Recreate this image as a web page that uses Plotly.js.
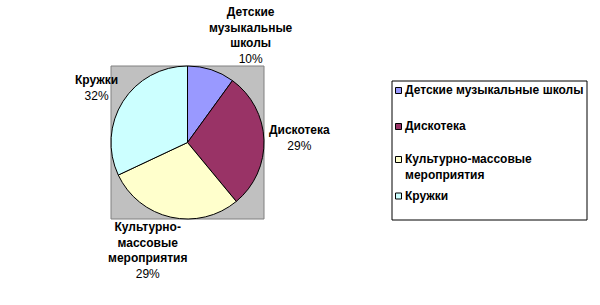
<!DOCTYPE html>
<html>
<head>
<meta charset="utf-8">
<script src="https://cdn.plot.ly/plotly-3.0.1.min.js"></script>
<style>html,body{margin:0;padding:0;background:#fff}#chart{width:600px;height:305px}</style>
</head>
<body>
<div id="chart"></div>
<script>
// Data
var categories = ["Детские музыкальные школы", "Дискотека", "Культурно-массовые мероприятия", "Кружки"];
var values = [10, 29, 29, 32];
var sliceLabelLines = ["Детские<br>музыкальные<br>школы", "Дискотека", "Культурно-<br>массовые<br>мероприятия", "Кружки"];
var legendLabelLines = ["Детские музыкальные школы", "Дискотека", "Культурно-массовые<br>мероприятия", "Кружки"];
var colors = ["#9999FF", "#993366", "#FFFFCC", "#CCFFFF"];

var W = 600, H = 305;
function px(x) { return x / W; }
function py(y) { return 1 - y / H; }
var FONT = "Liberation Sans, Arial, sans-serif";

// Layout positions
var plotBox = {x0: 111, x1: 264, y0: 66, y1: 219};
var labelPos = [[251, 35], [299, 138], [147, 250.5], [96, 87.5]];
var legendBox = {x0: 392, x1: 587, y0: 81, y1: 220};
var legendRowY = [90.5, 126.5, 159.5, 196];
var legendLineCount = [1, 1, 2, 1];

var total = values.reduce(function (a, b) { return a + b; }, 0);

var trace = {
  type: "pie",
  labels: categories,
  values: values,
  sort: false,
  direction: "clockwise",
  rotation: 0,
  textinfo: "none",
  hoverinfo: "label+percent",
  automargin: false,
  marker: {colors: colors, line: {color: "#000000", width: 1}},
  domain: {x: [px(plotBox.x0), px(plotBox.x1)], y: [py(plotBox.y1), py(plotBox.y0)]},
  showlegend: false
};

var shapes = [
  {type: "rect", xref: "paper", yref: "paper", layer: "below",
   x0: px(plotBox.x0), x1: px(plotBox.x1), y0: py(plotBox.y1), y1: py(plotBox.y0),
   fillcolor: "#C0C0C0", line: {color: "#808080", width: 1}},
  {type: "rect", xref: "paper", yref: "paper", layer: "above",
   x0: px(legendBox.x0), x1: px(legendBox.x1), y0: py(legendBox.y1), y1: py(legendBox.y0),
   fillcolor: "rgba(0,0,0,0)", line: {color: "#000000", width: 1}}
];

var annotations = [];
categories.forEach(function (c, i) {
  var pct = Math.round(values[i] / total * 100);
  annotations.push({
    xref: "paper", yref: "paper", x: px(labelPos[i][0]), y: py(labelPos[i][1]),
    xanchor: "center", yanchor: "middle", align: "center", showarrow: false,
    text: "<b>" + sliceLabelLines[i] + "</b><br>" + pct + "%",
    font: {family: FONT, size: 12, color: "#000000"}
  });
  // legend swatch
  var cy = legendRowY[i];
  shapes.push({type: "rect", xref: "paper", yref: "paper", layer: "above",
    x0: px(395.5), x1: px(401.5), y0: py(cy + 3), y1: py(cy - 3),
    fillcolor: colors[i], line: {color: "#000000", width: 1}});
  var lines = legendLineCount[i];
  annotations.push({
    xref: "paper", yref: "paper", x: px(403), y: py(cy + (lines - 1) * 15.5 / 2),
    xanchor: "left", yanchor: "middle", align: "left", showarrow: false,
    text: "<b>" + legendLabelLines[i] + "</b>",
    font: {family: FONT, size: 12, color: "#000000"}
  });
});

var layout = {
  width: W, height: H,
  margin: {l: 0, r: 0, t: 0, b: 0},
  paper_bgcolor: "#ffffff",
  showlegend: false,
  shapes: shapes,
  annotations: annotations
};

Plotly.newPlot("chart", [trace], layout, {displayModeBar: false, staticPlot: true});
</script>
</body>
</html>
